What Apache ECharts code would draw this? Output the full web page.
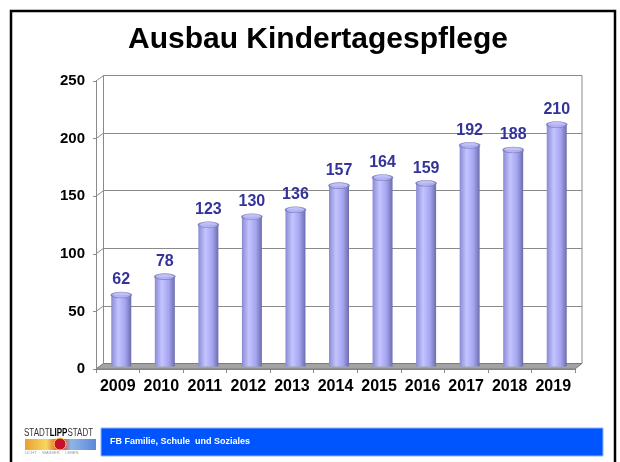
<!DOCTYPE html>
<html>
<head>
<meta charset="utf-8">
<script src="https://cdn.jsdelivr.net/npm/echarts@6/dist/echarts.min.js"></script>
<style>
  html, body { margin: 0; padding: 0; background: #fff; }
  #chart { width: 620px; height: 462px; }
</style>
</head>
<body>
<div id="chart"></div>
<script>
// data
var years = ['2009', '2010', '2011', '2012', '2013', '2014', '2015', '2016', '2017', '2018', '2019'];
var places = [62, 78, 123, 130, 136, 157, 164, 159, 192, 188, 210];
var yTicks = [0, 50, 100, 150, 200, 250];

var FONT = '"Liberation Sans", Arial, sans-serif';

var chart = echarts.init(document.getElementById('chart'));

// the 3d look: back wall grid, bar grid (middle), front axis grid
var option = {
   animation: false,
   title: {
      text: 'Ausbau Kindertagespflege',
      left: 318, top: 25, padding: 0, textAlign: 'center',
      textStyle: { fontFamily: FONT, fontSize: 30, fontWeight: 'bold', color: '#000' }
   },
   grid: [
      { left: 103.5, right: 38, top: 75.5, bottom: 98.5, show: true, borderColor: '#8a8a8a', borderWidth: 1 },
      { left: 99.5, right: 41.5, top: 78.5, bottom: 95.5 },
      { left: 96, right: 45, top: 81, bottom: 93 }
   ],
   xAxis: [
      { gridIndex: 0, type: 'category', data: years, show: false },
      { gridIndex: 1, type: 'category', data: years, show: false },
      { gridIndex: 2, type: 'category', data: years,
        axisLine: { lineStyle: { color: '#8a8a8a' } },
        axisTick: { show: true, length: 4, lineStyle: { color: '#8a8a8a' } },
        axisLabel: { interval: 0, margin: 10, color: '#000', fontFamily: FONT, fontSize: 16, fontWeight: 'bold' } }
   ],
   yAxis: [
      { gridIndex: 0, type: 'value', min: 0, max: 250, interval: 50,
        axisLine: { show: false }, axisTick: { show: false }, axisLabel: { show: false },
        splitLine: { lineStyle: { color: '#8a8a8a', width: 1 } } },
      { gridIndex: 1, type: 'value', min: 0, max: 250, interval: 50, show: false },
      { gridIndex: 2, type: 'value', min: 0, max: 250, interval: 50,
        axisLine: { show: true, lineStyle: { color: '#8a8a8a' } },
        axisTick: { show: true, length: 3, lineStyle: { color: '#8a8a8a' } },
        splitLine: { show: false },
        axisLabel: { margin: 11, color: '#000', fontFamily: FONT, fontSize: 15, fontWeight: 'bold' } }
   ],
   series: [
      {
         type: 'bar', xAxisIndex: 1, yAxisIndex: 1, data: places, barWidth: 20, z: 3,
         itemStyle: {
            color: new echarts.graphic.LinearGradient(0, 0, 1, 0, [
               { offset: 0, color: '#8a8ad4' },
               { offset: 0.35, color: '#c4c4ff' },
               { offset: 0.7, color: '#a4a4f0' },
               { offset: 1, color: '#6c6cac' }
            ])
         },
         label: { show: true, position: 'top', distance: 7, color: '#333399',
                  fontFamily: FONT, fontSize: 16, fontWeight: 'bold' }
      },
      {
         // top caps of the cylinders
         type: 'scatter', xAxisIndex: 1, yAxisIndex: 1, data: places, z: 4,
         symbol: 'circle', symbolSize: [20, 6],
         itemStyle: { color: '#b2b2f2', borderColor: '#7474b4', borderWidth: 1 }
      }
   ]
};
chart.setOption(option);

// floor, left wall edges and the slide frame / footer
function px(grid, x, y) {
   return chart.convertToPixel({ xAxisIndex: grid, yAxisIndex: grid }, [x, y]);
}
var fL = [96, px(2, 0, 0)[1]], fR = [575, px(2, 0, 0)[1]];
var bL = [103.5, px(0, 0, 0)[1]], bR = [582, px(0, 0, 0)[1]];

var extra = [];
extra.push({
   type: 'polygon', z: 1,
   shape: { points: [fL, fR, bR, bL] },
   style: { fill: '#a3a3a3', stroke: '#7c7c7c', lineWidth: 1 }
});
yTicks.forEach(function (v) {
   var a = px(2, 0, v), b = px(0, 0, v);
   extra.push({
      type: 'line', z: 1,
      shape: { x1: 96, y1: a[1], x2: 103.5, y2: b[1] },
      style: { stroke: '#8a8a8a', lineWidth: 1 }
   });
});
// frame
extra.push({
   type: 'rect', z: 10,
   shape: { x: 11, y: 11, width: 604, height: 470 },
   style: { fill: 'none', stroke: '#000', lineWidth: 2.5 }
});
// footer band
extra.push({
   type: 'rect', z: 10,
   shape: { x: 101, y: 428, width: 502, height: 28 },
   style: { fill: '#0055ff', stroke: '#8fb2ff', lineWidth: 1 }
});
extra.push({
   type: 'text', z: 11, x: 110, y: 442,
   style: { text: 'FB Familie, Schule  und Soziales', fill: '#fff', fontFamily: FONT,
            fontSize: 9, fontWeight: 'bold', textVerticalAlign: 'middle' }
});
// city logo
extra.push({
   type: 'text', z: 11, x: 24, y: 433, scaleX: 0.8,
   style: { rich: { a: { fontFamily: FONT, fontSize: 10, fill: '#333' },
                    b: { fontFamily: FONT, fontSize: 10, fontWeight: 'bold', fill: '#000' } },
            text: '{a|STADT}{b|LIPP}{a|STADT}', textVerticalAlign: 'middle' }
});
extra.push({
   type: 'rect', z: 11,
   shape: { x: 25, y: 439, width: 71, height: 11 },
   style: { fill: new echarts.graphic.LinearGradient(0, 0, 1, 0, [
      { offset: 0, color: '#e8a030' }, { offset: 0.3, color: '#f6d860' },
      { offset: 0.5, color: '#d84020' }, { offset: 0.65, color: '#8fb4e8' },
      { offset: 1, color: '#5a8ad8' }]) }
});
extra.push({
   type: 'circle', z: 12,
   shape: { cx: 60, cy: 444, r: 6 },
   style: { fill: '#c8102e', stroke: '#ffd040', lineWidth: 1 }
});
extra.push({
   type: 'text', z: 11, x: 25, y: 453,
   style: { text: 'LICHT  ·  WASSER  ·  LEBEN', fill: '#999', fontFamily: FONT, fontSize: 4, textVerticalAlign: 'middle' }
});
chart.setOption({ graphic: extra });
</script>
</body>
</html>
